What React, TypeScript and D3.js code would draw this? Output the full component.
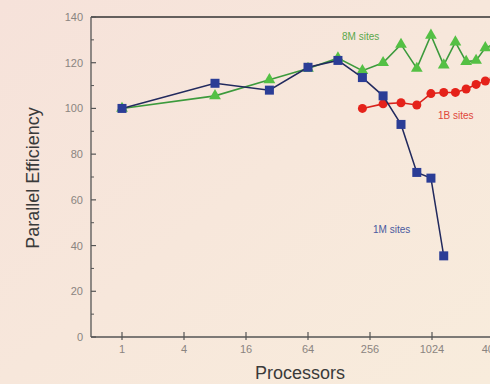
import * as d3 from "d3";
import { useEffect, useRef } from "react";

const procs = [1, 8, 27, 64, 125, 216, 343, 512, 729, 1000, 1331, 1728, 2197, 2744, 3375, 4096];

const small = [100, 111, 108, 118, 121, 113.5, 105.5, 93, 72, 69.5, 35.5];
const medium = [100, 105.5, 112.5, 117.5, 122, 116.5, 120, 128, 117.5, 132, 119, 129, 120.5, 121, 126.5, 128];
const largeProcs = [216, 343, 512, 729, 1000, 1331, 1728, 2197, 2744, 3375, 4096];
const large = [100, 102, 102.5, 101.5, 106.5, 107, 107, 108.5, 110.5, 112, 113];

const yTicks = [0, 20, 40, 60, 80, 100, 120, 140];
const xTicks = [1, 4, 16, 64, 256, 1024, 4096];

export default function App() {
    const ref = useRef<SVGSVGElement>(null);

    useEffect(() => {
        const svg = d3.select(ref.current);
        svg.selectAll("*").remove();

        const width = 490;
        const height = 384;
        const left = 91, top = 17, bottom = 337;

        const x = d3.scaleLog().base(2).domain([0.5, Math.pow(2, 12.5)]).range([left, left + 31 * 13.5]);
        const y = d3.scaleLinear().domain([0, 140]).range([bottom, top]);

        svg.attr("width", width).attr("height", height);

        // background
        const grad = svg.append("defs").append("linearGradient")
            .attr("id", "bg").attr("x1", 0).attr("y1", 0).attr("x2", 1).attr("y2", 1);
        grad.append("stop").attr("offset", "0%").attr("stop-color", "#f6e2da");
        grad.append("stop").attr("offset", "100%").attr("stop-color", "#f8ecdc");
        svg.append("rect").attr("width", width).attr("height", height).attr("fill", "url(#bg)");

        // frame
        const axisColor = "#555";
        svg.append("line").attr("x1", left).attr("x2", width).attr("y1", top).attr("y2", top)
            .attr("stroke", "#333").attr("stroke-width", 1.3);
        svg.append("line").attr("x1", left).attr("x2", left).attr("y1", top).attr("y2", bottom)
            .attr("stroke", axisColor).attr("stroke-width", 1.3);
        svg.append("line").attr("x1", left).attr("x2", width).attr("y1", bottom).attr("y2", bottom)
            .attr("stroke", axisColor).attr("stroke-width", 1.3);

        // y ticks
        const minor = d3.range(10, 140, 20);
        svg.selectAll(".ymaj").data(yTicks).enter().append("line")
            .attr("x1", left).attr("x2", left + 5)
            .attr("y1", d => y(d)).attr("y2", d => y(d))
            .attr("stroke", axisColor).attr("stroke-width", 1.2);
        svg.selectAll(".ymin").data(minor).enter().append("line")
            .attr("x1", left).attr("x2", left + 3)
            .attr("y1", d => y(d)).attr("y2", d => y(d))
            .attr("stroke", axisColor).attr("stroke-width", 1);
        svg.selectAll(".ylab").data(yTicks).enter().append("text")
            .attr("x", left - 8).attr("y", d => y(d) + 4)
            .attr("text-anchor", "end")
            .style("font-family", "Liberation Sans, Arial, sans-serif")
            .style("font-size", "11px")
            .attr("fill", "#8a8480")
            .text(d => d);

        // x ticks
        svg.selectAll(".xmaj").data(xTicks).enter().append("line")
            .attr("x1", d => x(d)).attr("x2", d => x(d))
            .attr("y1", bottom - 5).attr("y2", bottom + 3)
            .attr("stroke", axisColor).attr("stroke-width", 1.2);
        svg.selectAll(".xlab").data(xTicks).enter().append("text")
            .attr("x", d => x(d)).attr("y", bottom + 16)
            .attr("text-anchor", "middle")
            .style("font-family", "Liberation Sans, Arial, sans-serif")
            .style("font-size", "11px")
            .attr("fill", "#8a8480")
            .text(d => d);

        // axis titles
        svg.append("text")
            .attr("x", 300).attr("y", 379)
            .attr("text-anchor", "middle")
            .style("font-family", "Liberation Sans, Arial, sans-serif")
            .style("font-size", "18px")
            .attr("fill", "#3a3a3a")
            .text("Processors");
        svg.append("text")
            .attr("transform", "rotate(-90)")
            .attr("x", -178).attr("y", 39)
            .attr("text-anchor", "middle")
            .style("font-family", "Liberation Sans, Arial, sans-serif")
            .style("font-size", "18px")
            .attr("fill", "#3a3a3a")
            .text("Parallel Efficiency");

        const line = d3.line<[number, number]>().x(d => x(d[0])).y(d => y(d[1]));

        // green series
        const gData: [number, number][] = medium.map((v, i) => [procs[i], v]);
        svg.append("path").datum(gData).attr("d", line)
            .attr("fill", "none").attr("stroke", "#3c9a3c").attr("stroke-width", 1.6);
        const tri = d3.symbol().type(d3.symbolTriangle).size(60);
        svg.selectAll(".g").data(gData).enter().append("path")
            .attr("d", tri)
            .attr("transform", d => `translate(${x(d[0])},${y(d[1])})`)
            .attr("fill", "#54c044");

        // red series
        const rData: [number, number][] = large.map((v, i) => [largeProcs[i], v]);
        svg.append("path").datum(rData).attr("d", line)
            .attr("fill", "none").attr("stroke", "#d8231c").attr("stroke-width", 1.6);
        svg.selectAll(".r").data(rData).enter().append("circle")
            .attr("cx", d => x(d[0])).attr("cy", d => y(d[1])).attr("r", 4.5)
            .attr("fill", "#e5221a");

        // blue series
        const bData: [number, number][] = small.map((v, i) => [procs[i], v]);
        svg.append("path").datum(bData).attr("d", line)
            .attr("fill", "none").attr("stroke", "#222a5e").attr("stroke-width", 1.5);
        svg.selectAll(".b").data(bData).enter().append("rect")
            .attr("x", d => x(d[0]) - 4.5).attr("y", d => y(d[1]) - 4.5)
            .attr("width", 9).attr("height", 9)
            .attr("fill", "#2b3d96");

        // series labels
        const lab = (t: string, lx: number, ly: number, c: string) =>
            svg.append("text").attr("x", lx).attr("y", ly)
                .style("font-family", "Liberation Sans, Arial, sans-serif")
                .style("font-size", "10px")
                .attr("fill", c)
                .text(t);
        lab("8M sites", 342, 40, "#5aa84a");
        lab("1B sites", 438, 119, "#e0463a");
        lab("1M sites", 373, 233, "#4a5aa0");
    }, []);

    return (
        <div style={{ position: "absolute", left: 0, top: 0 }}>
            <svg ref={ref} style={{ display: "block" }} />
        </div>
    );
}
